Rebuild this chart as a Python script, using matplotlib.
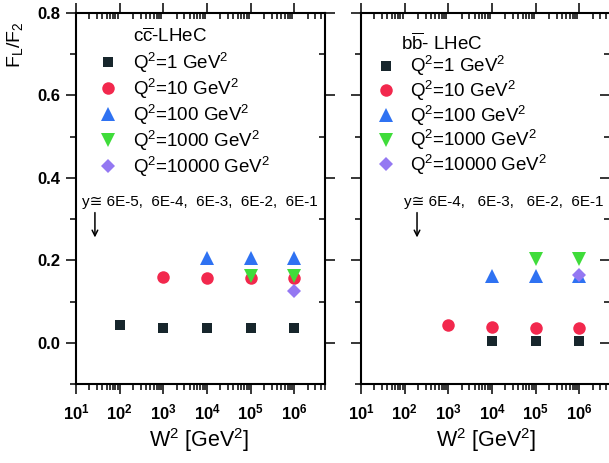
import numpy as np
import matplotlib
matplotlib.use('Agg')
import matplotlib.pyplot as plt
from matplotlib.ticker import FixedLocator, NullFormatter, MultipleLocator
from matplotlib.lines import Line2D

plt.rcParams['font.family'] = ['Liberation Sans', 'DejaVu Sans']
plt.rcParams['mathtext.fontset'] = 'custom'
plt.rcParams['mathtext.rm'] = 'Liberation Sans'
plt.rcParams['mathtext.it'] = 'Liberation Sans:italic'
plt.rcParams['mathtext.bf'] = 'Liberation Sans:bold'

########################################################################
# DATA

q2_labels = ['Q$^2$=1 GeV$^2$', 'Q$^2$=10 GeV$^2$', 'Q$^2$=100 GeV$^2$',
             'Q$^2$=1000 GeV$^2$', 'Q$^2$=10000 GeV$^2$']
markers = ['s', 'o', '^', 'v', 'D']
colors = ['#17262c', '#f2284d', '#2f72f2', '#3fdc3a', '#9478f2']
msizes = [7.5, 9, 9.5, 9.5, 7]

# charm, W^2 [GeV^2] and FL/F2
cc_w2_q1 = [1e2, 1e3, 1e4, 1e5, 1e6]
cc_r_q1 = [0.042, 0.037, 0.035, 0.035, 0.035]
cc_w2_q10 = [1e3, 1e4, 1e5, 1e6]
cc_r_q10 = [0.160, 0.158, 0.157, 0.157]
cc_w2_q100 = [1e4, 1e5, 1e6]
cc_r_q100 = [0.205, 0.205, 0.205]
cc_w2_q1000 = [1e5, 1e6]
cc_r_q1000 = [0.163, 0.163]
cc_w2_q10000 = [1e6]
cc_r_q10000 = [0.126]

# bottom
bb_w2_q1 = [1e4, 1e5, 1e6]
bb_r_q1 = [0.005, 0.005, 0.005]
bb_w2_q10 = [1e3, 1e4, 1e5, 1e6]
bb_r_q10 = [0.044, 0.038, 0.036, 0.036]
bb_w2_q100 = [1e4, 1e5, 1e6]
bb_r_q100 = [0.163, 0.161, 0.161]
bb_w2_q1000 = [1e5, 1e6]
bb_r_q1000 = [0.203, 0.203]
bb_w2_q10000 = [1e6]
bb_r_q10000 = [0.164]

cc_sets = [(cc_w2_q1, cc_r_q1), (cc_w2_q10, cc_r_q10), (cc_w2_q100, cc_r_q100),
           (cc_w2_q1000, cc_r_q1000), (cc_w2_q10000, cc_r_q10000)]
bb_sets = [(bb_w2_q1, bb_r_q1), (bb_w2_q10, bb_r_q10), (bb_w2_q100, bb_r_q100),
           (bb_w2_q1000, bb_r_q1000), (bb_w2_q10000, bb_r_q10000)]

xtick_vals = [1e1, 1e2, 1e3, 1e4, 1e5, 1e6]
xtick_labels = [r'$\mathbf{10^{%d}}$' % k for k in range(1, 7)]

########################################################################
# FIGURE

fig = plt.figure(figsize=(6.09, 4.63), dpi=100)
ax1 = fig.add_axes([76/609, 1-384/463, 249/609, 371/463])
ax2 = fig.add_axes([361/609, 1-384/463, 249/609, 371/463])


def style_axis(ax, ylabels):
    ax.set_xscale('log')
    ax.set_xlim(10, 5e6)
    ax.set_ylim(-0.1, 0.8)
    for s in ax.spines.values():
        s.set_linewidth(1.5)
    ax.xaxis.set_major_locator(FixedLocator(xtick_vals))
    ax.set_xticklabels(xtick_labels, fontsize=12)
    minors = [m * 10**k for k in range(1, 7) for m in range(2, 10)]
    ax.xaxis.set_minor_locator(FixedLocator(minors))
    ax.xaxis.set_minor_formatter(NullFormatter())
    ax.yaxis.set_major_locator(MultipleLocator(0.2))
    ax.yaxis.set_minor_locator(MultipleLocator(0.1))
    ax.tick_params(which='both', bottom=True, left=True, top=True, right=True,
                   width=1.1)
    ax.tick_params(which='major', length=7)
    ax.tick_params(which='minor', length=4)
    ax.tick_params(axis='x', which='both', direction='out')
    ax.tick_params(axis='y', which='both', direction='out')
    # top and right ticks point inside
    for t in ax.xaxis.get_major_ticks() + ax.xaxis.get_minor_ticks():
        t.tick2line.set_marker(3)
    for t in ax.yaxis.get_major_ticks() + ax.yaxis.get_minor_ticks():
        t.tick2line.set_marker(0)
    ax.tick_params(axis='x', pad=6)
    if ylabels:
        ax.set_yticks([0.0, 0.2, 0.4, 0.6, 0.8])
        ax.set_yticklabels(['0.0', '0.2', '0.4', '0.6', '0.8'],
                           fontsize=12, fontweight='bold')
        ax.tick_params(axis='y', pad=4)
    else:
        ax.yaxis.set_major_formatter(NullFormatter())


style_axis(ax1, True)
style_axis(ax2, False)

for ax, sets in [(ax1, cc_sets), (ax2, bb_sets)]:
    for (w2, r), mk, c, ms in zip(sets, markers, colors, msizes):
        ax.plot(w2, r, linestyle='none', marker=mk, color=c, markersize=ms,
                markeredgewidth=0, zorder=3)

handles = [Line2D([], [], linestyle='none', marker=mk, color=c, markersize=ms,
                  markeredgewidth=0)
           for mk, c, ms in zip(markers, colors, msizes)]

leg1 = ax1.legend(handles, q2_labels, loc='upper left', frameon=False,
                  bbox_to_anchor=(0.04, 0.924), fontsize=13.5,
                  handletextpad=0.6, labelspacing=0.1, borderpad=0,
                  handlelength=1.4)
leg2 = ax2.legend(handles, q2_labels, loc='upper left', frameon=False,
                  bbox_to_anchor=(0.01, 0.914), fontsize=13.5,
                  handletextpad=0.6, labelspacing=0.03, borderpad=0,
                  handlelength=1.4)

ax1.text(0.23, 0.935, r'c$\overline{\mathrm{c}}$-LHeC', transform=ax1.transAxes,
         fontsize=13.5, va='center', ha='left')
ax2.text(0.16, 0.92, r'b$\overline{\mathrm{b}}$- LHeC', transform=ax2.transAxes,
         fontsize=13.5, va='center', ha='left')

ax1.text(0.024, 0.49, 'y\u2245 6E-5,  6E-4,  6E-3,  6E-2,  6E-1',
         transform=ax1.transAxes, fontsize=11, va='center', ha='left')
ax2.text(0.173, 0.49, 'y\u2245 6E-4,   6E-3,   6E-2,  6E-1',
         transform=ax2.transAxes, fontsize=11, va='center', ha='left')

for ax, xa in [(ax1, 0.076), (ax2, 0.225)]:
    ax.annotate('', xy=(xa, 0.395), xytext=(xa, 0.462),
                xycoords='axes fraction',
                arrowprops=dict(arrowstyle='->', lw=1.1, color='black',
                                shrinkA=0, shrinkB=0))

fig.text(15/609, 1-45/463, r'F$_\mathrm{L}$/F$_2$', rotation=90,
         fontsize=14, ha='center', va='center')
fig.text(199/609, 1-440/463, r'W$^2$ [GeV$^2$]', fontsize=15.5,
         ha='center', va='center')
fig.text(486/609, 1-440/463, r'W$^2$ [GeV$^2$]', fontsize=15.5,
         ha='center', va='center')

fig.savefig('out.png', dpi=100)
